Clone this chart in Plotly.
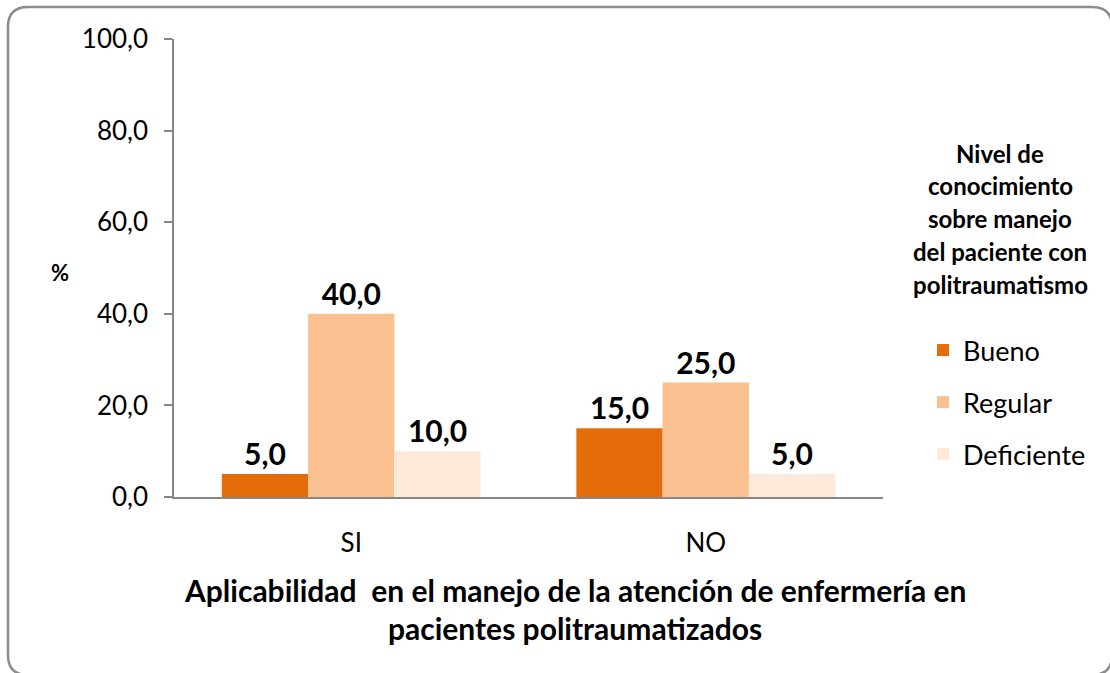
import plotly.graph_objects as go

categories = ["SI", "NO"]
series_names = ["Bueno", "Regular", "Deficiente"]
bueno = [5.0, 15.0]
regular = [40.0, 25.0]
deficiente = [10.0, 5.0]
tick_vals = [0, 20, 40, 60, 80, 100]
colors = ["#E46C0A", "#FAC090", "#FDE9D9"]

W, H = 1110, 673
L, R, T, B = 174, 883, 39, 497  # plot area in px


def px(x):
    return (x - L) / (R - L)


def py(y):
    return (B - y) / (B - T)


FONT = "Lato"
fig = go.Figure()
for name, vals, col in zip(series_names, [bueno, regular, deficiente], colors):
    fig.add_trace(go.Bar(
        name=name, x=categories, y=vals, marker=dict(color=col, line=dict(width=0)),
        text=vals, texttemplate="%{y:.1f}", textposition="outside",
        textfont=dict(family=FONT, size=30, color="black", weight="bold"),
        cliponaxis=False, legendgroup=name,
    ))

fig.update_layout(
    width=W, height=H,
    margin=dict(l=L, r=W - R, t=T, b=H - B),
    paper_bgcolor="white", plot_bgcolor="white",
    separators=",.",
    barmode="group", bargap=0.27, bargroupgap=0,
    font=dict(family=FONT, size=26, color="black"),
    showlegend=True,
    legend=dict(x=px(923), y=py(326), xanchor="left", yanchor="top",
                font=dict(family=FONT, size=27, color="black"),
                traceorder="grouped", tracegroupgap=14,
                bgcolor="rgba(0,0,0,0)"),
    xaxis=dict(showline=True, linecolor="#868686", linewidth=1.5, ticks="",
               tickfont=dict(family=FONT, size=26), ticklabelstandoff=22,
               range=[-0.5, 1.5]),
    yaxis=dict(range=[0, 100], tickvals=tick_vals, tickformat=".1f",
               showline=True, linecolor="#868686", linewidth=1.5,
               ticks="outside", ticklen=8, tickcolor="#868686", tickwidth=1.5,
               showgrid=False, zeroline=False,
               tickfont=dict(family=FONT, size=26), ticklabelstandoff=11),
)


def label(text, x, y, size):
    fig.add_annotation(text=text, x=px(x), y=py(y), xref="paper", yref="paper",
                       xanchor="center", yanchor="middle", showarrow=False,
                       font=dict(family=FONT, size=size, weight="bold", color="black"))


# axis titles
label("%", 60, 272, 22)
label("Aplicabilidad  en el manejo de la atención de enfermería en", 575, 590, 30)
label("pacientes politraumatizados", 575, 628, 30)

# legend title lines
legend_title = ["Nivel de", "conocimiento", "sobre manejo", "del paciente con", "politraumatismo"]
for i, line in enumerate(legend_title):
    label(line, 1000, 153 + 32.8 * i, 24)

# rounded border
x0, x1, y0, y1, r = px(8), px(1112), py(7), py(675), 20
rx, ry = r / (R - L), r / (B - T)
path = (f"M {x0+rx},{y0} L {x1-rx},{y0} Q {x1},{y0} {x1},{y0-ry} "
        f"L {x1},{y1+ry} Q {x1},{y1} {x1-rx},{y1} L {x0+rx},{y1} Q {x0},{y1} {x0},{y1+ry} "
        f"L {x0},{y0-ry} Q {x0},{y0} {x0+rx},{y0} Z")
fig.add_shape(type="path", path=path, xref="paper", yref="paper",
              line=dict(color="#8C8C8C", width=2.5), layer="below")

fig.write_html("out.html", config={"displayModeBar": False},
               post_script="document.body.style.margin='0';document.body.style.overflow='hidden';")
